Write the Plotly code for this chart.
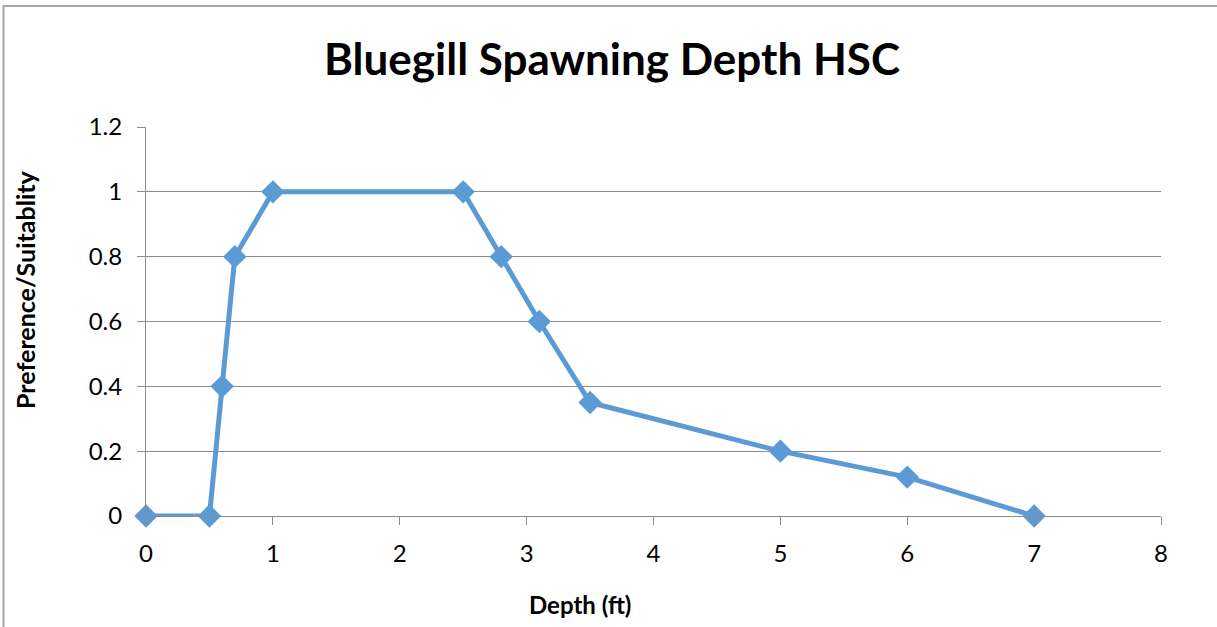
import plotly.graph_objects as go

depth_ft = [0, 0.5, 0.6, 0.7, 1, 2.5, 2.8, 3.1, 3.5, 5, 6, 7]
suitability = [0, 0, 0.4, 0.8, 1, 1, 0.8, 0.6, 0.35, 0.2, 0.12, 0]
x_ticks = [0, 1, 2, 3, 4, 5, 6, 7, 8]
y_ticks = [0, 0.2, 0.4, 0.6, 0.8, 1, 1.2]
y_tick_labels = ["0", "0.2", "0.4", "0.6", "0.8", "1", "1.2"]

FONT = "Lato, Carlito, Calibri, sans-serif"
BLUE = "#5B9BD5"
GRID = "#8C8C8C"

# body margin is removed by the post script, so the figure sits at (0, 0)
OFF = 0
W, H = 1217, 627
# target plot area in page pixels
PX0, PX1, PY0, PY1 = 146, 1161, 127, 516
pw, ph = PX1 - PX0, PY1 - PY0
L, T = PX0 - OFF, PY0 - OFF
R = W - L - pw
B = H - T - ph


def px_to_paper_x(px):
    return (px - PX0) / pw


def py_to_paper_y(py):
    return (PY1 - py) / ph


fig = go.Figure()
fig.add_trace(go.Scatter(
    x=depth_ft, y=suitability, mode="lines+markers",
    line=dict(color=BLUE, width=5),
    marker=dict(symbol="diamond", size=18, color=BLUE),
    showlegend=False, cliponaxis=False,
))

fig.update_layout(
    width=W, height=H,
    margin=dict(l=L, r=R, t=T, b=B),
    paper_bgcolor="white", plot_bgcolor="white",
    font=dict(family=FONT, color="black"),
    xaxis=dict(range=[0, 8], tickvals=x_ticks, ticks="outside", ticklen=8, tickcolor=GRID,
               showline=True, linecolor=GRID, linewidth=1, showgrid=False, zeroline=False,
               tickfont=dict(family=FONT, size=24), ticklabelstandoff=8),
    yaxis=dict(range=[0, 1.2], tickvals=y_ticks, ticktext=y_tick_labels, ticks="outside", ticklen=8,
               tickcolor=GRID, showline=True, linecolor=GRID, linewidth=1,
               showgrid=True, gridcolor=GRID, gridwidth=1, zeroline=False,
               tickfont=dict(family=FONT, size=24), ticklabelstandoff=10),
)

fig.add_annotation(text="<b>Bluegill Spawning Depth HSC</b>", xref="paper", yref="paper",
                   x=px_to_paper_x(612), y=py_to_paper_y(58), xanchor="center", yanchor="middle",
                   showarrow=False, font=dict(family=FONT, size=44, color="black"))
fig.add_annotation(text="<b>Depth (ft)</b>", xref="paper", yref="paper",
                   x=px_to_paper_x(580), y=py_to_paper_y(604), xanchor="center", yanchor="middle",
                   showarrow=False, font=dict(family=FONT, size=24, color="black"))
fig.add_annotation(text="<b>Preference/Suitablity</b>", xref="paper", yref="paper",
                   x=px_to_paper_x(25), y=py_to_paper_y(290), xanchor="center", yanchor="middle",
                   textangle=-90, showarrow=False, font=dict(family=FONT, size=25, color="black"))

# chart-area border (Excel-style frame)
fig.add_shape(type="rect", xref="paper", yref="paper",
              x0=px_to_paper_x(3.5), x1=px_to_paper_x(W + 30),
              y0=py_to_paper_y(H + 30), y1=py_to_paper_y(6),
              line=dict(color="#A6A6A6", width=2), fillcolor="rgba(0,0,0,0)", layer="below")

fig.write_html("out.html", config={"displayModeBar": False},
               post_script="document.body.style.margin='0px';document.body.style.padding='0px';")
